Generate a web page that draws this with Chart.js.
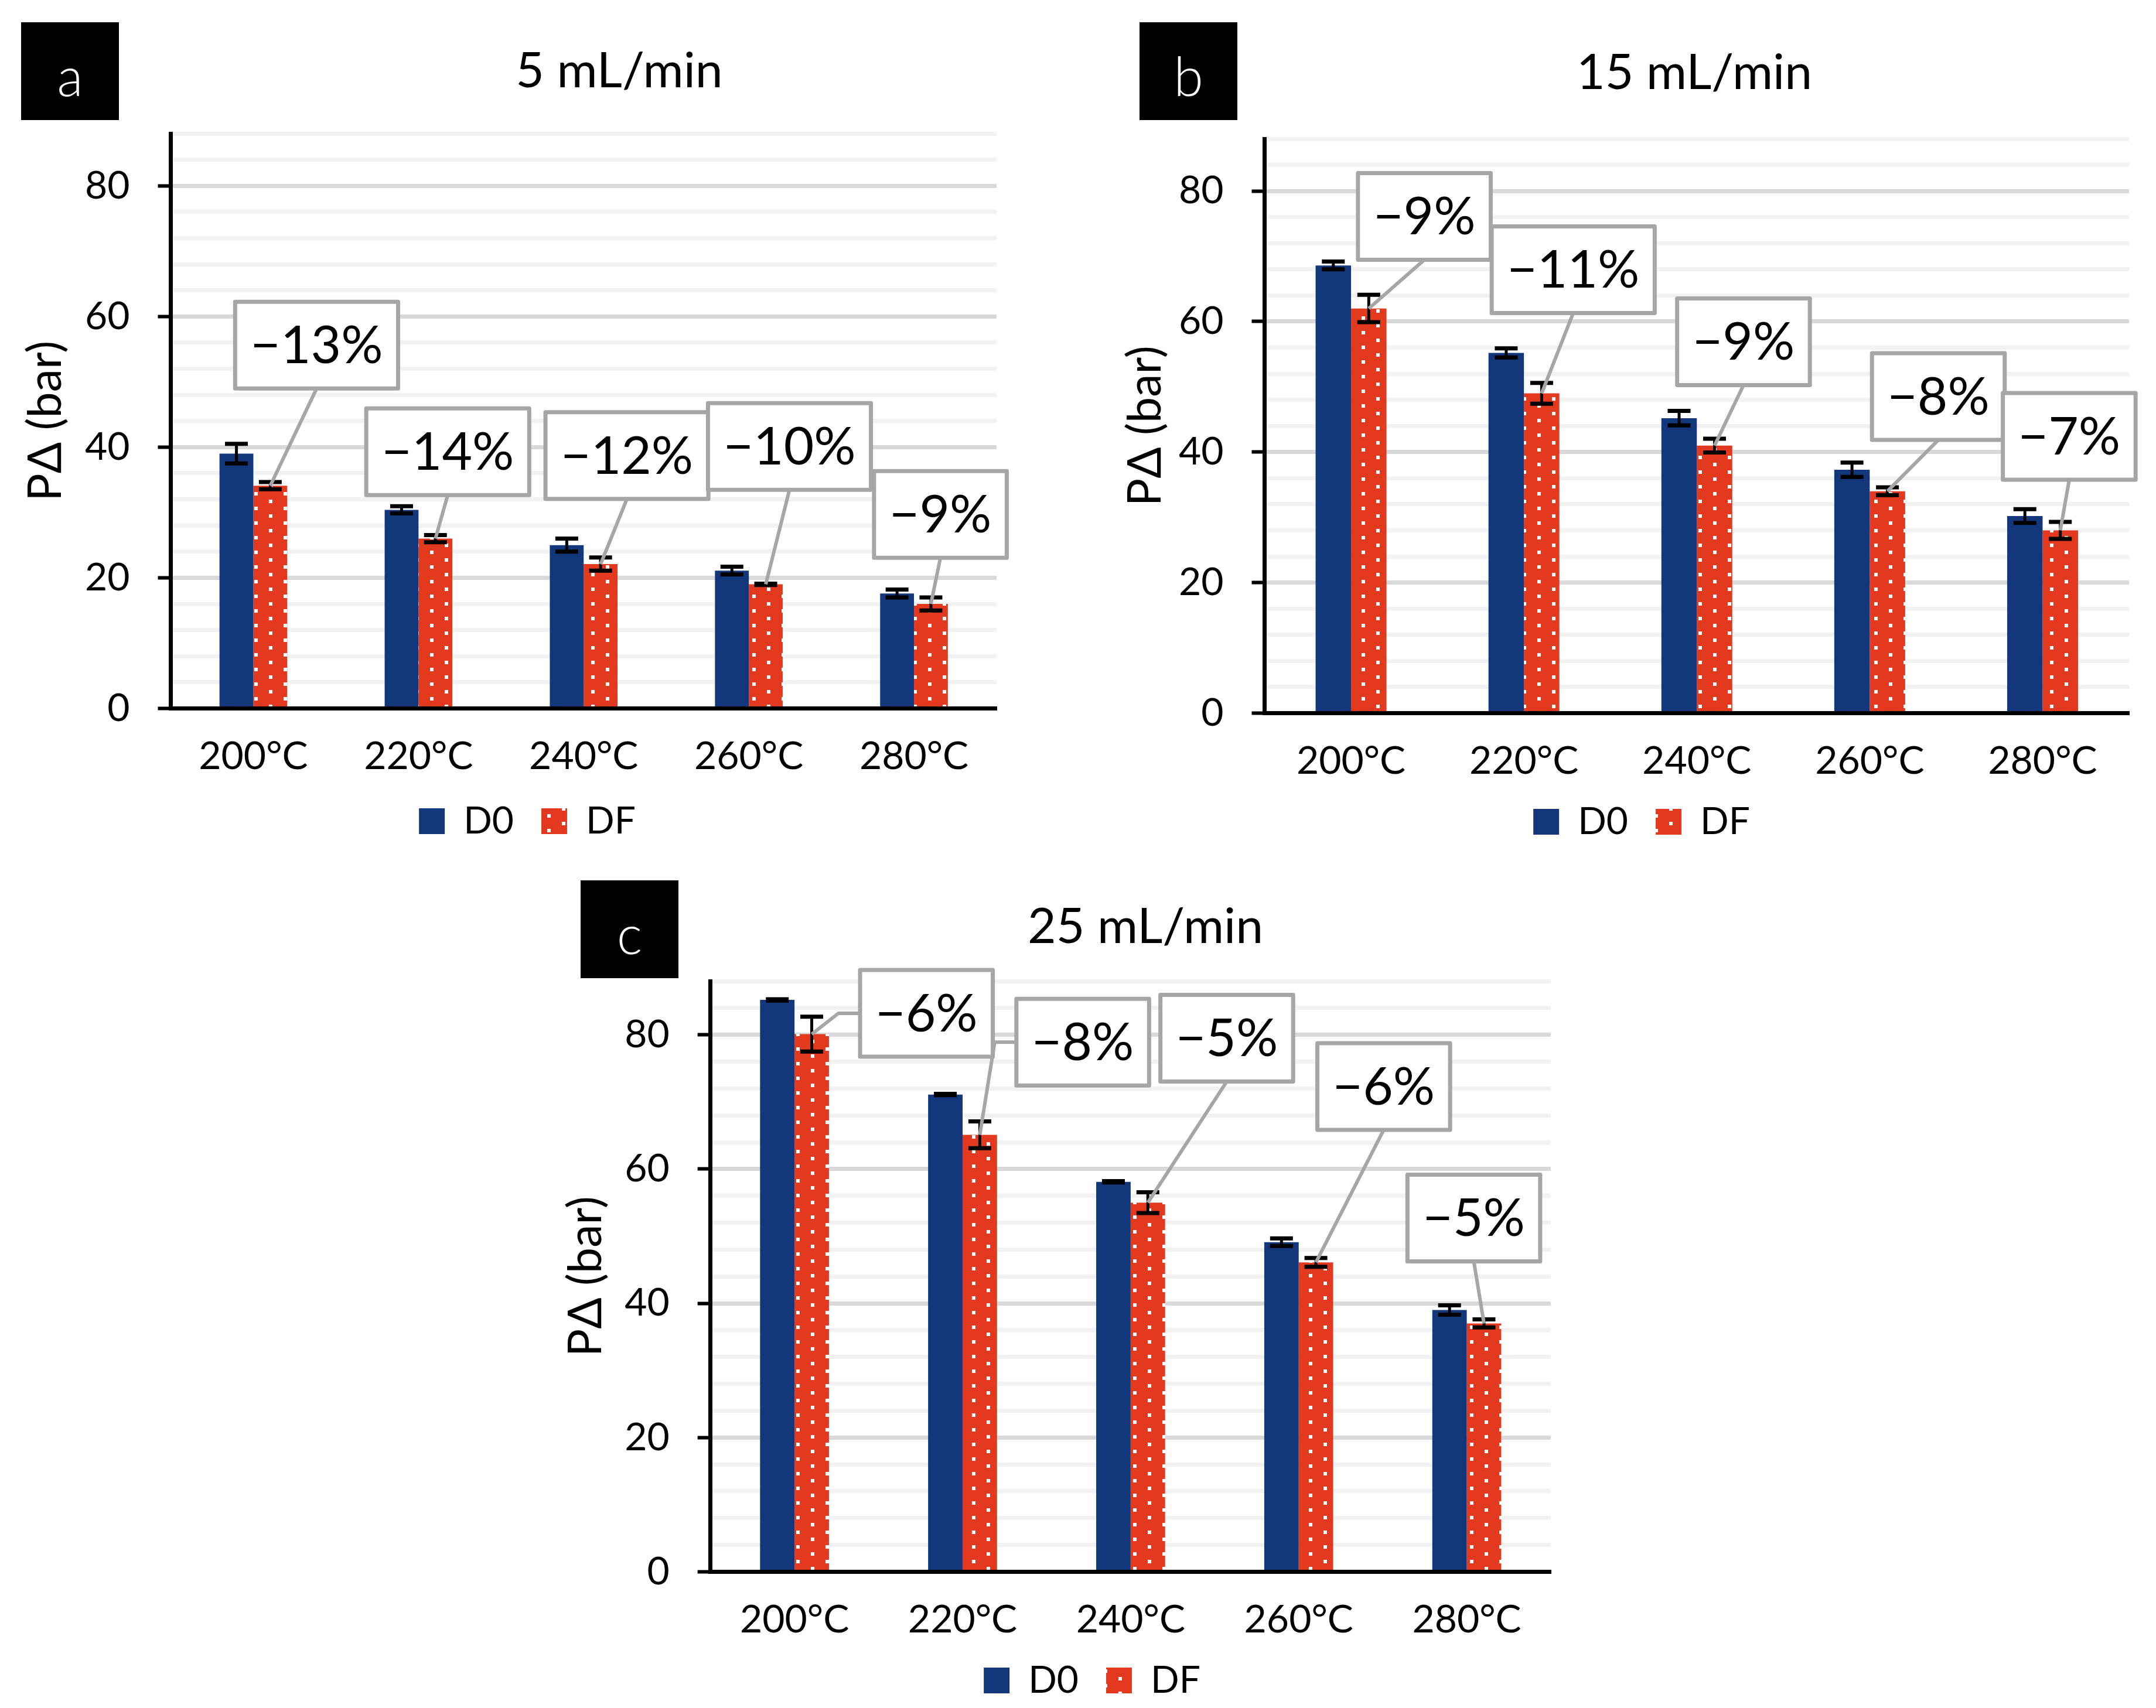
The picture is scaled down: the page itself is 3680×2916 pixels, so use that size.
<!DOCTYPE html>
<html>
<head>
<meta charset="utf-8">
<script src="https://cdn.jsdelivr.net/npm/chart.js@4.4.1/dist/chart.umd.min.js"></script>
<style>
  html, body { margin: 0; padding: 0; background: #fff; }
  body { width: 3680px; height: 2916px; position: relative; overflow: hidden; }
  canvas { position: absolute; }
</style>
</head>
<body>
<canvas id="chartA" width="1840" height="1460" style="left:0px;top:0px"></canvas>
<canvas id="chartB" width="1840" height="1460" style="left:1840px;top:0px"></canvas>
<canvas id="chartC" width="1840" height="1456" style="left:900px;top:1460px"></canvas>
<script>
// categories
const temps = ["200°C", "220°C", "240°C", "260°C", "280°C"];

// 5 mL/min
const d0A = [39.0, 30.4, 25.0, 21.1, 17.6];
const dfA = [34.1, 26.0, 22.1, 19.0, 16.0];
const d0ErrA = [1.5, 0.55, 1.0, 0.6, 0.6];
const dfErrA = [0.55, 0.55, 1.0, 0.1, 1.0];
const dropA = ["−13%", "−14%", "−12%", "−10%", "−9%"];

// 15 mL/min
const d0B = [68.6, 55.2, 45.2, 37.3, 30.2];
const dfB = [62.0, 49.0, 41.0, 34.0, 28.0];
const d0ErrB = [0.6, 0.7, 1.1, 1.1, 1.05];
const dfErrB = [2.1, 1.6, 1.05, 0.6, 1.3];
const dropB = ["−9%", "−11%", "−9%", "−8%", "−7%"];

// 25 mL/min
const d0C = [85.2, 71.1, 58.1, 49.1, 39.0];
const dfC = [80.1, 65.1, 55.0, 46.1, 37.0];
const d0ErrC = [0.1, 0.1, 0.1, 0.57, 0.7];
const dfErrC = [2.6, 2.0, 1.55, 0.65, 0.6];
const dropC = ["−6%", "−8%", "−5%", "−6%", "−5%"];

// y axis: 0..88, minor step 4, labels every 20
const yMax = 88;
const yStep = 4;

// where the callout boxes sit: [offset in category widths, y value, leader side]
const calloutPosA = [[0.383, 55.6, "b"], [0.177, 39.3, "b"], [0.262, 38.7, "b"], [0.246, 40.1, "b"], [0.16, 29.7, "b"]];
const calloutPosB = [[0.424, 76.1, "b"], [0.285, 67.95, "b"], [0.27, 56.9, "b"], [0.397, 48.5, "b"], [0.154, 42.4, "b"]];
const calloutPosC = [[0.785, 83.2, "l"], [0.715, 78.9, "l"], [0.572, 79.5, "b"], [0.506, 72.3, "b"], [0.042, 52.7, "b"]];

const BLUE = "#12377a";
const RED = "#e2391f";

Chart.defaults.font.family = "Lato, 'Open Sans', sans-serif";
Chart.defaults.color = "#000";

function dotPattern(ctx) {
  const c = document.createElement("canvas");
  c.width = 50;
  c.height = 50;
  const g = c.getContext("2d");
  g.fillStyle = RED;
  g.fillRect(0, 0, 50, 50);
  g.fillStyle = "#fff";
  [[0, 0], [0, 25], [25, 12], [25, 37]].forEach(([x, y]) => g.fillRect(x + 9, y + 3, 6, 6));
  return ctx.createPattern(c, "repeat");
}

const extras = {
  id: "extras",
  afterLayout(chart, args, opts) {
    // centre the legend the way the original does (offset from the plot centre)
    const lg = chart.legend;
    lg.left += opts.legendShift;
    lg.right += opts.legendShift;
  },
  afterDatasetsDraw(chart) {
    // error bars
    const { ctx } = chart;
    const y = chart.scales.y;
    ctx.save();
    ctx.strokeStyle = "#000";
    chart.data.datasets.forEach((ds, di) => {
      chart.getDatasetMeta(di).data.forEach((bar, i) => {
        const v = ds.data[i], e = ds.errors[i];
        const yt = y.getPixelForValue(v + e);
        const yb = y.getPixelForValue(v - e);
        ctx.lineWidth = 5;
        ctx.beginPath();
        ctx.moveTo(bar.x, yt);
        ctx.lineTo(bar.x, yb);
        ctx.stroke();
        ctx.lineWidth = 7;
        ctx.beginPath();
        ctx.moveTo(bar.x - 19.5, yt);
        ctx.lineTo(bar.x + 19.5, yt);
        ctx.moveTo(bar.x - 19.5, yb);
        ctx.lineTo(bar.x + 19.5, yb);
        ctx.stroke();
      });
    });
    ctx.restore();
  },
  afterDraw(chart, args, opts) {
    const { ctx } = chart;
    const x = chart.scales.x, y = chart.scales.y;
    ctx.save();

    // panel letter
    ctx.fillStyle = "#000";
    ctx.fillRect(opts.letterX, opts.letterY, 167, 167);
    ctx.fillStyle = "#fff";
    ctx.font = "300 92px Lato";
    ctx.textAlign = "center";
    ctx.textBaseline = "alphabetic";
    ctx.fillText(opts.letter, opts.letterX + 83.5, opts.letterY + 126);

    // panel title
    ctx.fillStyle = "#000";
    ctx.font = "84px Lato";
    ctx.textBaseline = "middle";
    ctx.fillText(opts.title, opts.titleX, opts.titleY);

    // percentage callouts
    const meta = chart.getDatasetMeta(1);
    const catW = x.getPixelForValue(1) - x.getPixelForValue(0);
    ctx.font = "89px Lato";
    ctx.lineJoin = "round";
    opts.labels.forEach((txt, i) => {
      const [dx, yv, side] = opts.pos[i];
      const bar = meta.data[i];
      const cx = x.getPixelForValue(i) + dx * catW;
      const cy = y.getPixelForValue(yv);
      const w = ctx.measureText(txt).width + 52, h = 148;
      const left = cx - w / 2, top = cy - h / 2;

      ctx.strokeStyle = "#a6a6a6";
      ctx.lineWidth = 6;
      ctx.beginPath();
      if (side === "l") {
        ctx.moveTo(left, cy);
        ctx.lineTo(left - 37, cy);
      } else {
        ctx.moveTo(cx, top + h);
      }
      ctx.lineTo(bar.x, bar.y);
      ctx.stroke();

      ctx.fillStyle = "#fff";
      ctx.fillRect(left, top, w, h);
      ctx.lineWidth = 7;
      ctx.strokeRect(left, top, w, h);
      ctx.fillStyle = "#000";
      ctx.fillText(txt, cx, cy + 2);
    });
    ctx.restore();
  }
};

function buildChart(id, cfg) {
  const el = document.getElementById(id);
  const ctx = el.getContext("2d");
  return new Chart(el, {
    type: "bar",
    data: {
      labels: temps,
      datasets: [
        { label: "D0", data: cfg.d0, errors: cfg.d0Err, backgroundColor: BLUE, borderWidth: 0,
          categoryPercentage: 0.41, barPercentage: 1 },
        { label: "DF", data: cfg.df, errors: cfg.dfErr, backgroundColor: dotPattern(ctx), borderWidth: 0,
          categoryPercentage: 0.41, barPercentage: 1 }
      ]
    },
    options: {
      responsive: false,
      animation: false,
      devicePixelRatio: 1,
      layout: { padding: cfg.padding },
      plugins: {
        title: { display: false },
        tooltip: { enabled: false },
        legend: {
          position: "bottom",
          labels: { boxWidth: 44, boxHeight: 44, padding: 47, font: { size: 64 }, color: "#000" }
        },
        extras: {
          letter: cfg.letter, letterX: cfg.letterX, letterY: cfg.letterY,
          title: cfg.title, titleX: cfg.titleX, titleY: cfg.titleY,
          labels: cfg.drops, pos: cfg.pos, legendShift: cfg.legendShift
        }
      },
      scales: {
        x: {
          grid: { display: false, drawTicks: false },
          border: { display: true, color: "#000", width: 7, z: 1 },
          ticks: { font: { size: 66 }, color: "#000", padding: 43, maxRotation: 0, autoSkip: false },
          afterFit: (s) => { s.height = cfg.hx; }
        },
        y: {
          min: 0,
          max: yMax,
          ticks: {
            stepSize: yStep, autoSkip: false, maxTicksLimit: 100,
            font: { size: 66 }, color: "#000", padding: 48,
            callback: (v) => (v % 20 === 0 ? v : "")
          },
          grid: {
            color: (c) => (c.tick && c.tick.value % 20 === 0 ? "#d9d9d9" : "#f2f2f2"),
            lineWidth: 7,
            tickLength: 22,
            tickWidth: 6,
            tickColor: (c) => (c.tick && c.tick.value % 20 === 0 ? "#000" : "rgba(0,0,0,0)")
          },
          border: { color: "#000", width: 7, z: 1 },
          title: { display: true, text: "PΔ (bar)", font: { size: 79 }, color: "#000",
                   padding: { top: cfg.yTitlePad, bottom: 0 } },
          afterFit: (s) => { s.width = cfg.yw; }
        }
      }
    },
    plugins: [extras]
  });
}

buildChart("chartA", {
  d0: d0A, df: dfA, d0Err: d0ErrA, dfErr: dfErrA, drops: dropA, pos: calloutPosA,
  letter: "a", letterX: 36, letterY: 38, title: "5 mL/min", titleX: 1057, titleY: 122,
  padding: { left: 0, right: 139, top: 228, bottom: 16 }, yw: 291.5, hx: 113.5,
  yTitlePad: 31, legendShift: 49.5
});

buildChart("chartB", {
  d0: d0B, df: dfB, d0Err: d0ErrB, dfErr: dfErrB, drops: dropB, pos: calloutPosB,
  letter: "b", letterX: 105, letterY: 38, title: "15 mL/min", titleX: 1052, titleY: 125,
  padding: { left: 0, right: 46, top: 237, bottom: 15 }, yw: 318.5, hx: 106.5,
  yTitlePad: 68, legendShift: 65
});

buildChart("chartC", {
  d0: d0C, df: dfC, d0Err: d0ErrC, dfErr: dfErrC, drops: dropC, pos: calloutPosC,
  letter: "c", letterX: 91, letterY: 43, title: "25 mL/min", titleX: 1055, titleY: 123,
  padding: { left: 0, right: 93, top: 215, bottom: 5 }, yw: 312.7, hx: 106.5,
  yTitlePad: 53, legendShift: 90.5
});
</script>
</body>
</html>
